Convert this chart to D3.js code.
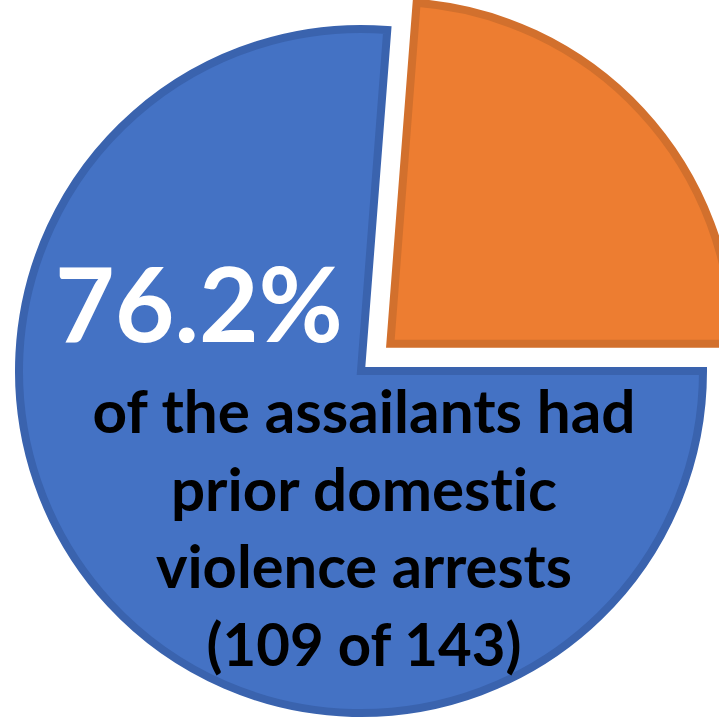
<!DOCTYPE html>
<html>
<head>
<meta charset="utf-8">
<script src="https://cdn.jsdelivr.net/npm/d3@7/dist/d3.min.js"></script>
<style>
  html, body { margin: 0; padding: 0; background: #ffffff; }
  svg { display: block; }
  text { font-variant-ligatures: none; font-feature-settings: "liga" 0, "dlig" 0; }
</style>
</head>
<body>
<div id="chart"></div>
<script>
// data
var categories = ["Prior domestic violence arrests", "No prior arrests"];
var values = [109, 34];
var sliceColors = ["#4472c4", "#ed7d31"];
var borderColors = ["#3a63ae", "#d2702d"];
var captionLines = ["of the assailants had", "prior domestic", "violence arrests"];

var attrs = {
  svgWidth: 719,
  svgHeight: 718,
  centerX: 361,
  centerY: 371,
  radius: 346,
  borderWidth: 8,
  explode: 40,
  startAngle: Math.PI / 2,       // blue slice starts at 3 o'clock
  fontFamily: "Lato, 'Open Sans', 'DejaVu Sans', sans-serif"
};

var total = d3.sum(values);
var pct = d3.format(".1f")(values[0] / total * 100) + "%";
var countLine = "(" + values[0] + " of " + total + ")";

var svg = d3.select("#chart").append("svg")
  .attr("width", attrs.svgWidth)
  .attr("height", attrs.svgHeight);

var pie = d3.pie()
  .sort(null)
  .startAngle(attrs.startAngle)
  .endAngle(attrs.startAngle + 2 * Math.PI)
  .value(function (d) { return d; });

var arcs = pie(values);

var arc = d3.arc()
  .innerRadius(0)
  .outerRadius(attrs.radius - attrs.borderWidth / 2);

var chart = svg.append("g")
  .attr("transform", "translate(" + attrs.centerX + "," + attrs.centerY + ")");

// slices, the small one pulled out along its mid angle
chart.selectAll("path.slice")
  .data(arcs)
  .enter().append("path")
  .attr("class", "slice")
  .attr("d", arc)
  .attr("fill", function (d, i) { return sliceColors[i]; })
  .attr("stroke", function (d, i) { return borderColors[i]; })
  .attr("stroke-width", attrs.borderWidth)
  .attr("stroke-linejoin", "miter")
  .attr("transform", function (d, i) {
    if (i === 0) return null;
    var mid = (d.startAngle + d.endAngle) / 2;
    var dx = Math.sin(mid) * attrs.explode;
    var dy = -Math.cos(mid) * attrs.explode;
    return "translate(" + dx + "," + dy + ")";
  });

// big percentage
svg.append("text")
  .attr("x", 199)
  .attr("y", 342)
  .attr("text-anchor", "middle")
  .attr("font-family", attrs.fontFamily)
  .attr("font-weight", 700)
  .attr("font-size", 104)
  .attr("fill", "#ffffff")
  .attr("textLength", 288)
  .attr("lengthAdjust", "spacingAndGlyphs")
  .text(pct);

// caption
var lines = captionLines.concat([countLine]);
var lineWidths = [543, 386, 416, 315];
svg.selectAll("text.caption")
  .data(lines)
  .enter().append("text")
  .attr("class", "caption")
  .attr("x", 364)
  .attr("y", function (d, i) { return 433 + i * 77.5; })
  .attr("text-anchor", "middle")
  .attr("font-family", attrs.fontFamily)
  .attr("font-weight", 700)
  .attr("font-size", 59)
  .attr("fill", "#000000")
  .attr("textLength", function (d, i) { return lineWidths[i]; })
  .attr("lengthAdjust", "spacingAndGlyphs")
  .text(function (d) { return d; });
</script>
</body>
</html>
